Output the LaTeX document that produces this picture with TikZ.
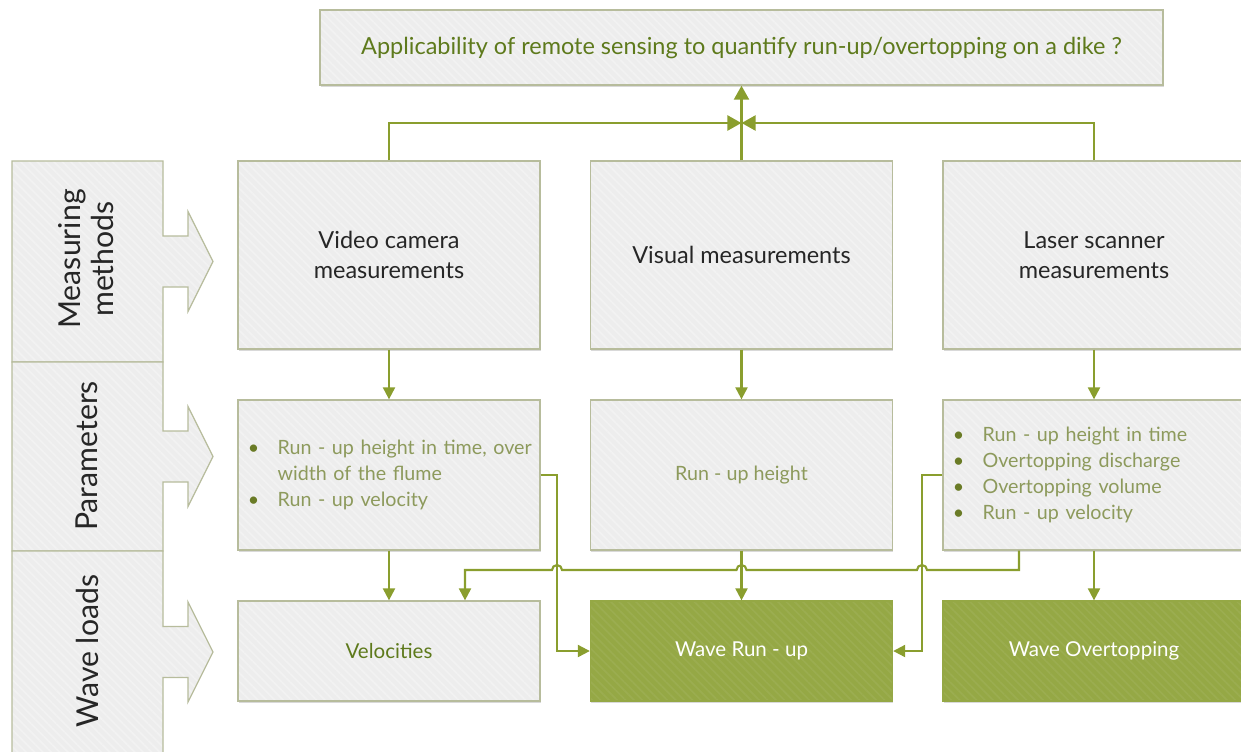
\documentclass[tikz,border=0pt]{standalone}
\usepackage{fontspec}
\setmainfont{Lato}
\usetikzlibrary{arrows.meta,positioning,calc,shadows,patterns.meta}

\definecolor{boxfill}{HTML}{EDEDED}
\definecolor{boxline}{HTML}{B7BC9C}
\definecolor{leaf}{HTML}{8A9E2E}
\definecolor{leafbox}{HTML}{95A845}
\definecolor{olive}{HTML}{5E7A1C}
\definecolor{paleolive}{HTML}{8D9A5C}
\definecolor{dotolive}{HTML}{6A7B26}

\newcommand{\blockfont}{\fontsize{16.7}{21.3}\selectfont}
\newcommand{\listfont}{\fontsize{14}{18.5}\selectfont}
\newcommand{\loadfont}{\fontsize{14.6}{18}\selectfont}
\newcommand{\sidefont}{\fontsize{21.5}{23.5}\selectfont}

\begin{document}
\begin{tikzpicture}[x=0.025cm, y=-0.025cm,
    stripes/.style={pattern={Lines[angle=-45,distance=4.2pt,line width=1.2pt]}, pattern color=#1},
    block/.style={drop shadow={shadow xshift=0.5pt, shadow yshift=-1.4pt, fill=black, opacity=0.15},
      preaction={fill=boxfill}, stripes=white!30!boxfill, draw=boxline, line width=0.9pt, inner sep=0pt,
      minimum width=7.55cm, align=center, font=\blockfont, text=black!85},
    loadbox/.style={block, preaction={fill=leafbox}, stripes=white!6!leafbox, draw=leafbox, text=white},
    side/.style={preaction={fill=boxfill}, stripes=white!30!boxfill, draw=boxline, line width=0.9pt},
    link/.style={draw=leaf, line width=1.5pt, -{Triangle[width=8.5pt,length=8.5pt]}},
    trunk/.style={draw=leaf, line width=2.1pt, -{Triangle[width=10.5pt,length=10pt]}},
  ]
  \useasboundingbox (0,0) rectangle (1241,751);

  %% left column: one box with an arrow per row
  \foreach \t/\b/\m in {161/362/261.5, 362/551/456.5, 551/753/652} {
    \draw[side] (12,\t) -- (163,\t) -- (163,\m-25.5) -- (188,\m-25.5) -- (188,\m-50)
      -- (213,\m) -- (188,\m+50) -- (188,\m+25.5) -- (163,\m+25.5) -- (163,\b) -- (12,\b) -- cycle;
  }
  \node[rotate=90, align=center, font=\sidefont, text=black!85] (lab_1) at (86.5,259) {Measuring\\methods};
  \node[rotate=90, font=\sidefont, text=black!85] (lab_2) at (87,456) {Parameters};
  \node[rotate=90, font=\sidefont, text=black!85] (lab_3) at (87,651) {Wave loads};

  %% question on top
  \node[block, minimum width=21.075cm, minimum height=1.875cm, text=olive] (question) at (741.5,47.5)
    {Applicability of remote sensing to quantify run-up/overtopping on a dike ?};

  %% measuring methods
  \foreach \i/\x/\txt in {1/389/{Video camera\\measurements}, 2/741.5/{Visual measurements}, 3/1094/{Laser scanner\\measurements}} {
    \node[block, minimum height=4.7cm] (meth_\i) at (\x,255) {\txt};
  }

  %% parameters
  \node[block, minimum height=3.75cm, text width=7.05cm, inner xsep=0.25cm, align=left,
    font=\listfont, text=paleolive] (par_1) at (389,475) {%
    \begin{tabular}{@{}p{0.74cm}@{}l@{}}
      \textcolor{dotolive}{\textbullet} & Run - up height in time, over\\
                                        & width of the flume\\
      \textcolor{dotolive}{\textbullet} & Run - up velocity
    \end{tabular}};
  \node[block, minimum height=3.75cm, font=\listfont, text=paleolive] (par_2) at (741.5,475) {Run - up height};
  \node[block, minimum height=3.75cm, text width=7.05cm, inner xsep=0.25cm, align=left,
    font=\listfont, text=paleolive] (par_3) at (1094,475) {%
    \begin{tabular}{@{}p{0.74cm}@{}l@{}}
      \textcolor{dotolive}{\textbullet} & Run - up height in time\\
      \textcolor{dotolive}{\textbullet} & Overtopping discharge\\
      \textcolor{dotolive}{\textbullet} & Overtopping volume\\
      \textcolor{dotolive}{\textbullet} & Run - up velocity
    \end{tabular}};

  %% wave loads
  \node[block, minimum height=2.5cm, text=olive, font=\loadfont] (load_1) at (389,651) {Velocities};
  \node[loadbox, minimum height=2.5cm, font=\loadfont] (load_2) at (741.5,651) {Wave Run - up};
  \node[loadbox, minimum height=2.5cm, font=\loadfont] (load_3) at (1094,651) {Wave Overtopping};

  %% methods up to the question
  \coordinate (joint) at (741.5,123);
  \draw[trunk] (meth_1.north) |- (joint);
  \draw[trunk] (meth_3.north) |- (joint);
  \draw[trunk] (meth_2.north) -- (question.south);

  %% methods down to parameters
  \foreach \i in {1,2,3} {
    \draw[link] (meth_\i.south) -- (par_\i.north);
  }
  \draw[link] (par_1.south) -- (load_1.north);
  \draw[link] (par_2.south) -- (load_2.north);
  \draw[link] (par_3.south) -- (load_3.north);

  %% side feeds into the run-up box
  \coordinate (bend_1) at (557,475);
  \coordinate (bend_3) at (922,475);
  \draw[link] (par_1.east) -- (bend_1) |- (load_2.west);
  \draw[link] (par_3.west) -- (bend_3) |- (load_2.east);

  %% laser parameters back to the velocities, hopping over the others
  \coordinate (out_3) at ($(par_3.south)+(-75,0)$);
  \coordinate (cross) at (0,570);
  \coordinate (drop_1) at ($(load_1.north)+(76,0)$);
  \draw[link] (out_3) -- (out_3 |- cross)
    -- ($(bend_3 |- cross)+(5,0)$) arc[start angle=0, end angle=180, radius=0.125cm]
    -- ($(par_2.south |- cross)+(5,0)$) arc[start angle=0, end angle=180, radius=0.125cm]
    -- ($(bend_1 |- cross)+(5,0)$) arc[start angle=0, end angle=180, radius=0.125cm]
    -- (drop_1 |- cross) -- (drop_1);

\end{tikzpicture}
\end{document}
